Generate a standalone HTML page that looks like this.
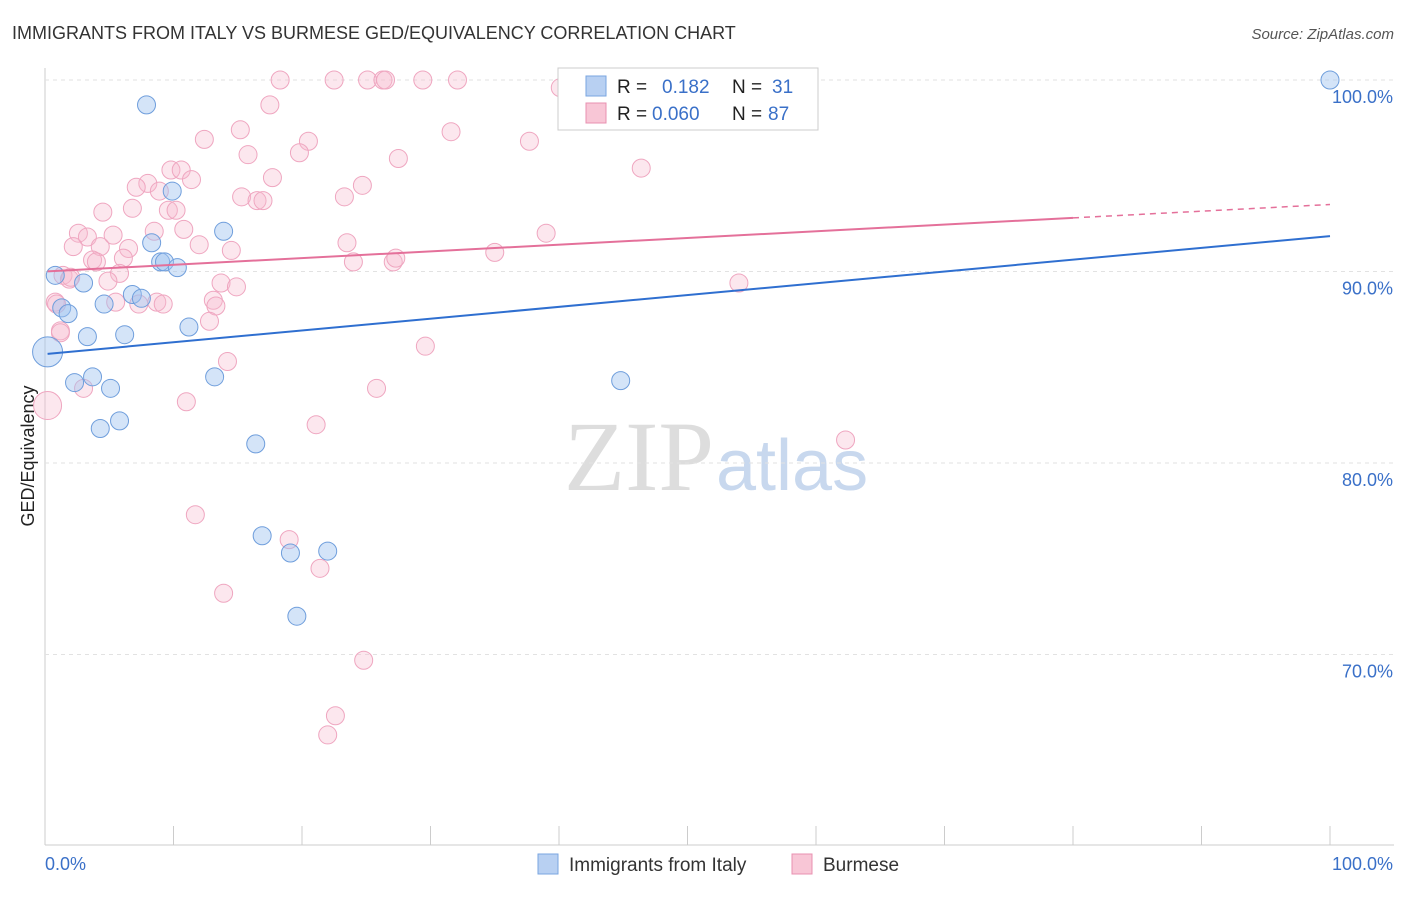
<!DOCTYPE html>
<html><head><meta charset="utf-8"><style>
body{margin:0;background:#fff;font-family:"Liberation Sans",sans-serif}
</style></head><body>
<svg id="c" width="1406" height="892" xmlns="http://www.w3.org/2000/svg">
<text x="12" y="39" font-size="18" fill="#333">IMMIGRANTS FROM ITALY VS BURMESE GED/EQUIVALENCY CORRELATION CHART</text>
<text x="1394" y="39" font-size="15" fill="#555" font-style="italic" text-anchor="end">Source: ZipAtlas.com</text>
<text x="714" y="490" font-size="100" fill="#ddd" text-anchor="end" font-family="Liberation Serif">ZIP</text>
<text x="716" y="490" font-size="72" fill="#c8d8ee">atlas</text>
<text transform="translate(34,456) rotate(-90)" font-size="18" fill="#222" text-anchor="middle">GED/Equivalency</text>
<g id="grid"></g><g id="pts"></g><g id="lines"></g>
<g>
<rect x="558" y="68" width="260" height="62" fill="#fff" stroke="#ccc"/>
<rect x="586" y="76" width="20" height="20" fill="#b8d0f2" stroke="#7aa6e0"/>
<text x="617" y="93" font-size="19" fill="#222">R =</text>
<text x="662" y="93" font-size="19" fill="#3a70c8">0.182</text>
<text x="732" y="93" font-size="19" fill="#222">N =</text>
<text x="772" y="93" font-size="19" fill="#3a70c8">31</text>
<rect x="586" y="103" width="20" height="20" fill="#f8c6d6" stroke="#e890b0"/>
<text x="617" y="120" font-size="19" fill="#222">R =</text>
<text x="652" y="120" font-size="19" fill="#3a70c8">0.060</text>
<text x="732" y="120" font-size="19" fill="#222">N =</text>
<text x="768" y="120" font-size="19" fill="#3a70c8">87</text>
</g>
<g>
<rect x="538" y="854" width="20" height="20" fill="#b8d0f2" stroke="#7aa6e0"/>
<text x="569" y="871" font-size="19" fill="#333">Immigrants from Italy</text>
<rect x="792" y="854" width="20" height="20" fill="#f8c6d6" stroke="#e890b0"/>
<text x="823" y="871" font-size="19" fill="#333">Burmese</text>
</g>
</svg>
<script>
const yTicks=[100,90,80,70];
const xTickLabels=["0.0%","100.0%"];
const blueX=[0.8,1.3,1.8,3.0,3.3,4.6,2.3,3.7,5.1,4.3,5.8,6.2,7.9,8.3,6.8,7.5,9.0,9.3,10.3,9.9,11.2,13.9,13.2,16.4,16.9,19.1,22.0,19.6,44.8,100,0.2];
const blueY=[89.8,88.1,87.8,89.4,86.6,88.3,84.2,84.5,83.9,81.8,82.2,86.7,98.7,91.5,88.8,88.6,90.5,90.5,90.2,94.2,87.1,92.1,84.5,81.0,76.2,75.3,75.4,72.0,84.3,100,85.8];
const blueR=[9,9,9,9,9,9,9,9,9,9,9,9,9,9,9,9,9,9,9,9,9,9,9,9,9,9,9,9,9,9,15];
const pinkX=[18.3,22.5,25.1,26.3,26.5,29.4,32.1,40.1,17.5,15.2,12.4,20.5,15.8,19.8,31.6,37.7,27.5,46.4,9.8,10.6,11.4,17.7,8.0,7.1,8.9,24.7,15.3,23.3,16.5,16.965,6.8,9.6,10.2,4.5,2.6,3.3,5.3,8.5,10.8,39.0,2.2,4.3,6.5,12.0,14.5,23.5,24.0,27.1,27.3,3.7,4.0,6.1,5.8,4.9,1.4,1.9,13.7,14.9,54.0,0.8,0.9,5.5,7.3,8.7,9.2,13.1,13.3,12.8,1.2,29.6,14.2,3.0,25.8,11.0,21.1,62.3,11.7,19.0,21.4,13.9,24.8,22.6,22.0,0.2,1.2,2.0,35.0];
const pinkY=[100,100,100,100,100,100,100,99.6,98.7,97.4,96.9,96.8,96.1,96.2,97.3,96.8,95.9,95.4,95.3,95.3,94.8,94.9,94.6,94.4,94.2,94.5,93.9,93.9,93.7,93.7,93.3,93.2,93.2,93.1,92.0,91.8,91.9,92.1,92.2,92.0,91.3,91.3,91.2,91.4,91.1,91.5,90.5,90.5,90.7,90.6,90.5,90.7,89.9,89.5,89.8,89.6,89.4,89.2,89.4,88.4,88.3,88.4,88.3,88.4,88.3,88.5,88.2,87.4,86.9,86.1,85.3,83.9,83.9,83.2,82.0,81.2,77.3,76.0,74.5,73.2,69.7,66.8,65.8,83.0,86.8,89.7,91.0];
const pinkR=pinkX.map((_,i)=>i==83?14:9);
const trendBlue=[85.7,91.85], trendPink=[90.0,93.5];
const X=v=>45+v*12.85, Y=v=>80+(100-v)*19.15;
const ns="http://www.w3.org/2000/svg";
function mk(t,a,p){const e=document.createElementNS(ns,t);for(const k in a)e.setAttribute(k,a[k]);p.appendChild(e);return e;}
const g=document.getElementById('grid');
const yl=mk('line',{x1:45,y1:68,x2:45,y2:845,stroke:'#ccc'},g);


const xl=mk('line',{x1:45,y1:845,x2:1394,y2:845,stroke:'#ccc'},g);


yTicks.forEach(v=>{
 const l=mk('line',{x1:45,x2:1394,y1:Y(v),y2:Y(v),stroke:'#e2e2e2','stroke-dasharray':'4,4'},g);
 
 
 const t=mk('text',{x:1393,y:Y(v)+23,'font-size':18,fill:'#3a70c8','text-anchor':'end'},g);t.textContent=v.toFixed(1)+'%';
 
 
});
for(let i=0;i<=10;i++){const l=mk('line',{x1:X(i*10),x2:X(i*10),y1:826,y2:845,stroke:'#ccc'},g);
 
 }
xTickLabels.forEach((s,i)=>{const t=mk('text',{x:i?1393:45,y:870,'font-size':18,fill:'#3a70c8','text-anchor':i?'end':'start'},g);t.textContent=s;
 
 });
const p=document.getElementById('pts');
pinkX.forEach((x,i)=>{const c=mk('circle',{cx:X(x),cy:Y(pinkY[i]),r:pinkR[i],fill:'rgba(246,185,205,0.35)',stroke:'#efa6c0','stroke-width':1},p);
 
 });
blueX.forEach((x,i)=>{const c=mk('circle',{cx:X(x),cy:Y(blueY[i]),r:blueR[i],fill:'rgba(160,195,240,0.45)',stroke:'#6f9edc','stroke-width':1},p);
 
 });
const L=document.getElementById('lines');
const b=mk('line',{x1:X(0.2),y1:Y(trendBlue[0]),x2:X(100),y2:Y(trendBlue[1]),stroke:'#2f6fd0','stroke-width':2},L);


const py=x=>trendPink[0]+(trendPink[1]-trendPink[0])*x/100;
const p1=mk('line',{x1:X(0.2),y1:Y(py(0.2)),x2:X(80),y2:Y(py(80)),stroke:'#e4709a','stroke-width':2},L);


const p2=mk('line',{x1:X(80),y1:Y(py(80)),x2:X(100),y2:Y(py(100)),stroke:'#e4709a','stroke-width':1.5,'stroke-dasharray':'6,5'},L);


</script>
</body></html>
